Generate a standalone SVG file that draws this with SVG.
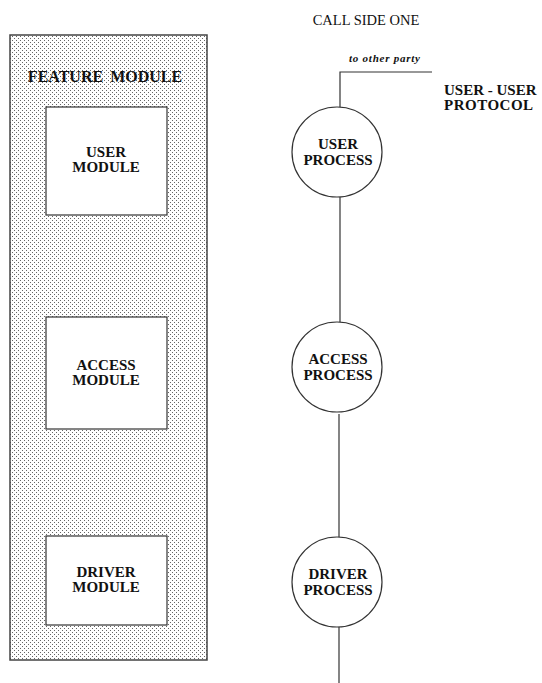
<svg xmlns="http://www.w3.org/2000/svg" width="542" height="683" viewBox="0 0 542 683">
<defs>
<pattern id="dots" width="4" height="4" patternUnits="userSpaceOnUse">
<rect width="4" height="4" fill="#fff"/>
<rect x="0" y="0" width="1" height="1" fill="#666"/>
<rect x="2" y="2" width="1" height="1" fill="#666"/>
</pattern>
</defs>
<style>
.lbl{font-family:"Liberation Serif","Times New Roman",serif;font-weight:bold;font-size:15px;fill:#111;text-anchor:middle}
.box{fill:#fff;stroke:#333;stroke-width:1.2}
.proc{fill:#fff;stroke:#333;stroke-width:1.2}
.conn{stroke:#333;stroke-width:1.2;fill:none}
</style>
<rect width="542" height="683" fill="#fff"/>
<text x="366" y="25" style="font-family:'Liberation Serif',serif;font-size:14.5px;fill:#111;text-anchor:middle">CALL SIDE ONE</text>
<g id="feature-module">
<rect x="10" y="35" width="197" height="625" fill="url(#dots)" stroke="#444" stroke-width="1.5"/>
<text class="lbl" x="105" y="82" style="font-size:16px;word-spacing:3px">FEATURE MODULE</text>
</g>
<g id="user-module">
<rect class="box" x="46" y="107" width="121" height="108"/>
<text class="lbl" x="106" y="157">USER</text>
<text class="lbl" x="106" y="172">MODULE</text>
</g>
<g id="access-module">
<rect class="box" x="46" y="317" width="121" height="112"/>
<text class="lbl" x="106" y="370">ACCESS</text>
<text class="lbl" x="106" y="385">MODULE</text>
</g>
<g id="driver-module">
<rect class="box" x="46" y="536" width="121" height="89"/>
<text class="lbl" x="106" y="577">DRIVER</text>
<text class="lbl" x="106" y="592">MODULE</text>
</g>
<g id="connectors">
<polyline class="conn" points="432,72 340,72 340,107"/>
<line class="conn" x1="340" y1="197" x2="340" y2="322"/>
<line class="conn" x1="339" y1="414" x2="339" y2="537"/>
<line class="conn" x1="339" y1="627" x2="339" y2="683"/>
</g>
<g id="to-other-party">
<text x="349" y="62" style="font-family:'Liberation Serif',serif;font-style:italic;font-weight:bold;font-size:11px;fill:#111" textLength="71">to other party</text>
</g>
<g id="protocol-label">
<text class="lbl" x="444" y="95" style="text-anchor:start">USER - USER</text>
<text class="lbl" x="444" y="110" style="text-anchor:start;letter-spacing:0.5px">PROTOCOL</text>
</g>
<g id="user-process">
<circle class="proc" cx="337" cy="152" r="45"/>
<text class="lbl" x="338" y="149">USER</text>
<text class="lbl" x="338" y="165">PROCESS</text>
</g>
<g id="access-process">
<circle class="proc" cx="337" cy="367" r="45"/>
<text class="lbl" x="338" y="364">ACCESS</text>
<text class="lbl" x="338" y="380">PROCESS</text>
</g>
<g id="driver-process">
<circle class="proc" cx="337" cy="582" r="45"/>
<text class="lbl" x="338" y="579">DRIVER</text>
<text class="lbl" x="338" y="595">PROCESS</text>
</g>
</svg>
